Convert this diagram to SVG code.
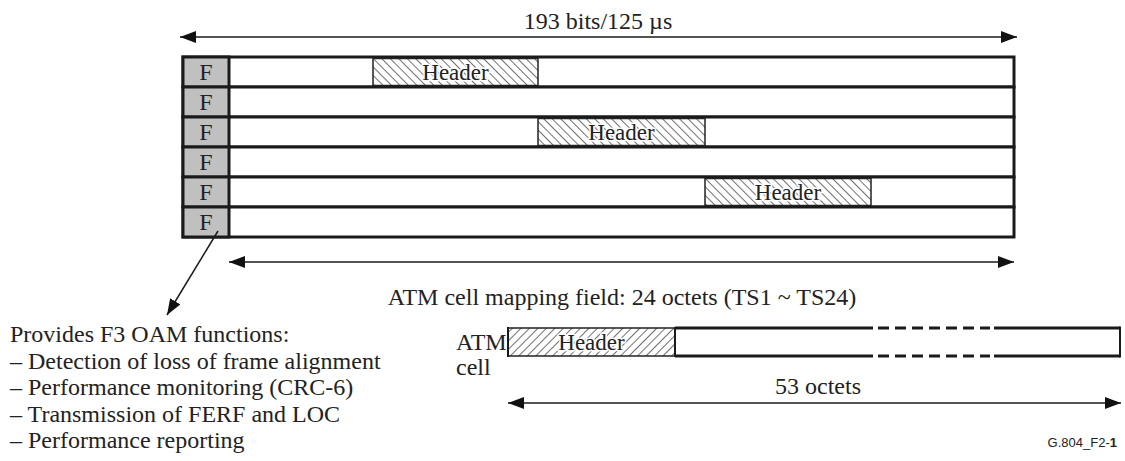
<svg xmlns="http://www.w3.org/2000/svg" width="1125" height="461" viewBox="0 0 1125 461">
<defs>
<style>
.t{font-family:"Liberation Serif","Times New Roman",serif;font-size:24px;fill:#222}
.h{font-family:"Liberation Serif","Times New Roman",serif;font-size:23px;fill:#222;stroke:#fff;stroke-width:3;paint-order:stroke;stroke-linejoin:round}
.s{font-family:"Liberation Sans",Arial,sans-serif;font-size:13px;fill:#222}
.row{fill:#fff;stroke:#1a1a1a;stroke-width:3}
.f{fill:#c0c0c0;stroke:#1a1a1a;stroke-width:3}
.hd{stroke:#222;stroke-width:1.5}
.ln{stroke:#1a1a1a;stroke-width:1.5;fill:none}
</style>
<pattern id="hb" patternUnits="userSpaceOnUse" width="6" height="6" patternTransform="rotate(-45)">
<rect width="6" height="6" fill="#fff"/>
<line x1="0" y1="0" x2="0" y2="6" stroke="#111" stroke-width="1.2"/>
</pattern>
<pattern id="hf" patternUnits="userSpaceOnUse" width="6" height="6" patternTransform="rotate(45)">
<rect width="6" height="6" fill="#fff"/>
<line x1="0" y1="0" x2="0" y2="6" stroke="#111" stroke-width="1.2"/>
</pattern>
<marker id="ah" viewBox="0 0 16 12" refX="16" refY="6" markerWidth="16" markerHeight="12" markerUnits="userSpaceOnUse" orient="auto-start-reverse">
<path d="M0,0 L16,6 L0,12 Z" fill="#111"/>
</marker>
</defs>
<rect width="1125" height="461" fill="#fff"/>

<g id="frame">
<rect class="row" x="183" y="57" width="831" height="30"/>
<rect class="row" x="183" y="87" width="831" height="30"/>
<rect class="row" x="183" y="117" width="831" height="30"/>
<rect class="row" x="183" y="147" width="831" height="30"/>
<rect class="row" x="183" y="177" width="831" height="30"/>
<rect class="row" x="183" y="207" width="831" height="30"/>
</g>
<g id="fcol">
<rect class="f" x="183" y="57" width="46" height="30"/>
<rect class="f" x="183" y="87" width="46" height="30"/>
<rect class="f" x="183" y="117" width="46" height="30"/>
<rect class="f" x="183" y="147" width="46" height="30"/>
<rect class="f" x="183" y="177" width="46" height="30"/>
<rect class="f" x="183" y="207" width="46" height="30"/>
<text class="t" x="206" y="80" text-anchor="middle" font-size="23">F</text>
<text class="t" x="206" y="110" text-anchor="middle" font-size="23">F</text>
<text class="t" x="206" y="140" text-anchor="middle" font-size="23">F</text>
<text class="t" x="206" y="170" text-anchor="middle" font-size="23">F</text>
<text class="t" x="206" y="200" text-anchor="middle" font-size="23">F</text>
<text class="t" x="206" y="230" text-anchor="middle" font-size="23">F</text>
</g>
<g id="header1">
<rect class="hd" x="373" y="58.5" width="165" height="27" fill="url(#hb)"/>
<text class="h" x="455.5" y="80" text-anchor="middle">Header</text>
</g>
<g id="header2">
<rect class="hd" x="538" y="118.5" width="167" height="27" fill="url(#hb)"/>
<text class="h" x="621.5" y="140" text-anchor="middle">Header</text>
</g>
<g id="header3">
<rect class="hd" x="705" y="178.5" width="166" height="27" fill="url(#hb)"/>
<text class="h" x="788" y="200" text-anchor="middle">Header</text>
</g>

<g id="atmcell">
<rect x="508" y="328" width="612" height="28" fill="#fff"/>
<rect class="hd" x="508" y="328" width="167" height="28" fill="url(#hf)"/>
<line x1="675" y1="328" x2="873" y2="328" stroke="#1a1a1a" stroke-width="3"/>
<line x1="675" y1="356" x2="873" y2="356" stroke="#1a1a1a" stroke-width="3"/>
<line x1="878" y1="328" x2="990" y2="328" stroke="#1a1a1a" stroke-width="3" stroke-dasharray="11,6"/>
<line x1="878" y1="356" x2="990" y2="356" stroke="#1a1a1a" stroke-width="3" stroke-dasharray="11,6"/>
<line x1="994" y1="328" x2="1120" y2="328" stroke="#1a1a1a" stroke-width="3"/>
<line x1="994" y1="356" x2="1120" y2="356" stroke="#1a1a1a" stroke-width="3"/>
<line x1="1120" y1="326.5" x2="1120" y2="357.5" stroke="#1a1a1a" stroke-width="2"/>
<line x1="508" y1="327" x2="508" y2="357" stroke="#1a1a1a" stroke-width="2"/>
<line x1="675" y1="327" x2="675" y2="357" stroke="#1a1a1a" stroke-width="2"/>
<text class="h" x="591.5" y="350" text-anchor="middle">Header</text>
<text class="t" x="456" y="350" font-size="23">ATM</text>
<text class="t" x="456" y="375" font-size="23">cell</text>
</g>

<g id="labels">
<text class="t" x="598" y="29" text-anchor="middle" font-size="20">193 bits/125 µs</text>
<text class="t" x="622" y="305" text-anchor="middle">ATM cell mapping field: 24 octets (TS1 ~ TS24)</text>
<text class="t" x="818" y="394" text-anchor="middle">53 octets</text>
<text class="t" x="10" y="342">Provides F3 OAM functions:</text>
<text class="t" x="10" y="369">– Detection of loss of frame alignment</text>
<text class="t" x="10" y="395">– Performance monitoring (CRC-6)</text>
<text class="t" x="10" y="422">– Transmission of FERF and LOC</text>
<text class="t" x="10" y="448">– Performance reporting</text>
<text class="s" x="1117" y="447" text-anchor="end">G.804_F2-<tspan font-weight="bold">1</tspan></text>
</g>

<g id="connectors">
<line class="ln" x1="180" y1="37" x2="1017" y2="37" marker-start="url(#ah)" marker-end="url(#ah)"/>
<line class="ln" x1="229" y1="262" x2="1014" y2="262" marker-start="url(#ah)" marker-end="url(#ah)"/>
<line class="ln" x1="508" y1="403" x2="1121" y2="403" marker-start="url(#ah)" marker-end="url(#ah)"/>
<line class="ln" x1="218" y1="231" x2="167" y2="315" stroke-width="1.2" marker-end="url(#ah)"/>
</g>
</svg>
